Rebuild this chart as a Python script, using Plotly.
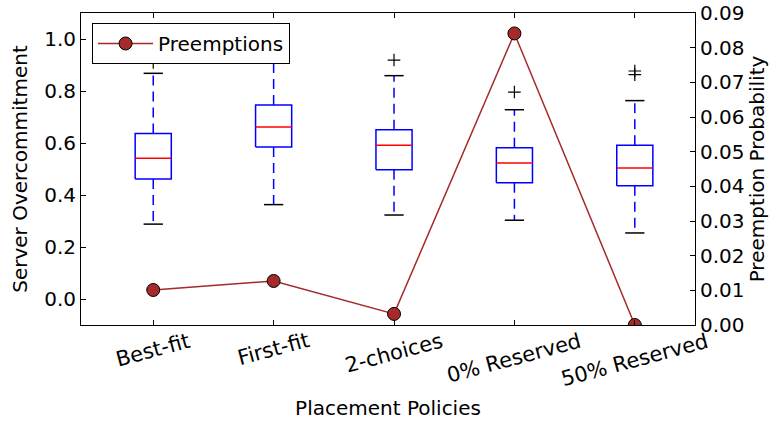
import plotly.graph_objects as go

categories = ["Best-fit", "First-fit", "2-choices", "0% Reserved", "50% Reserved"]
q1 = [0.462, 0.585, 0.497, 0.447, 0.436]
median = [0.541, 0.662, 0.591, 0.523, 0.504]
q3 = [0.637, 0.746, 0.651, 0.582, 0.591]
whisker_low = [0.288, 0.363, 0.323, 0.303, 0.254]
whisker_high = [0.868, 0.980, 0.859, 0.728, 0.763]
outliers = [[0.910], [], [0.919], [0.796], [0.877, 0.863]]
preemptions = [0.0101, 0.0127, 0.0032, 0.0841, 0.0]

FONT = "DejaVu Sans"
BOX_HALF = 0.15
CAP_HALF = 0.08
pos = list(range(1, len(categories) + 1))

box_x, box_y, med_x, med_y = [], [], [], []
wh_x, wh_y, cap_x, cap_y, out_x, out_y = [], [], [], [], [], []
for i, p in enumerate(pos):
    box_x += [p - BOX_HALF, p + BOX_HALF, p + BOX_HALF, p - BOX_HALF, p - BOX_HALF, None]
    box_y += [q1[i], q1[i], q3[i], q3[i], q1[i], None]
    med_x += [p - BOX_HALF, p + BOX_HALF, None]
    med_y += [median[i], median[i], None]
    wh_x += [p, p, None, p, p, None]
    wh_y += [q3[i], whisker_high[i], None, q1[i], whisker_low[i], None]
    cap_x += [p - CAP_HALF, p + CAP_HALF, None, p - CAP_HALF, p + CAP_HALF, None]
    cap_y += [whisker_high[i], whisker_high[i], None, whisker_low[i], whisker_low[i], None]
    for v in outliers[i]:
        out_x.append(p)
        out_y.append(v)

fig = go.Figure()
fig.add_trace(go.Scatter(x=wh_x, y=wh_y, mode="lines", showlegend=False,
                         line=dict(color="blue", width=1.5, dash="10px,6px"), hoverinfo="skip"))
fig.add_trace(go.Scatter(x=cap_x, y=cap_y, mode="lines", showlegend=False,
                         line=dict(color="black", width=1.5), hoverinfo="skip"))
fig.add_trace(go.Scatter(x=box_x, y=box_y, mode="lines", showlegend=False,
                         line=dict(color="blue", width=1.5), hoverinfo="skip"))
fig.add_trace(go.Scatter(x=med_x, y=med_y, mode="lines", showlegend=False,
                         line=dict(color="red", width=1.5), hoverinfo="skip"))
fig.add_trace(go.Scatter(x=out_x, y=out_y, mode="markers", showlegend=False,
                         marker=dict(symbol="cross-thin", size=9, line=dict(color="black", width=1.2))))
fig.add_trace(go.Scatter(x=pos, y=preemptions, mode="lines+markers", name="Preemptions",
                         yaxis="y2",
                         line=dict(color="#a52a2a", width=1.5),
                         marker=dict(size=13, color="#a52a2a", line=dict(color="black", width=1))))

for p, c in zip(pos, categories):
    fig.add_annotation(x=p, y=0, xref="x", yref="paper", text=c, showarrow=False,
                       textangle=-15, xanchor="center", yanchor="top", yshift=-1,
                       font=dict(family=FONT, size=21, color="black"))

fig.update_layout(
    width=777, height=423,
    margin=dict(l=81, r=82, t=13, b=98),
    paper_bgcolor="white", plot_bgcolor="white",
    font=dict(family=FONT, size=20, color="black"),
    xaxis=dict(range=[0.4, 5.5], tickvals=pos, ticktext=[""] * len(pos), showticklabels=False,
               ticks="inside", ticklen=5, tickcolor="black", showline=True, linecolor="black",
               linewidth=1, mirror="ticks", showgrid=False, zeroline=False, automargin=False,
               title=dict(text="Placement Policies", standoff=75, font=dict(family=FONT, size=20))),
    yaxis=dict(range=[-0.1, 1.1], tickvals=[0.0, 0.2, 0.4, 0.6, 0.8, 1.0], tickformat=".1f",
               ticks="inside", ticklen=5, tickcolor="black", showline=True, linecolor="black",
               linewidth=1, showgrid=False, zeroline=False, automargin=False,
               title=dict(text="Server Overcommitment", standoff=11, font=dict(family=FONT, size=20))),
    yaxis2=dict(range=[0, 0.09], dtick=0.01, tickformat=".2f", overlaying="y", side="right",
                ticks="inside", ticklen=5, tickcolor="black", showline=True, linecolor="black",
                linewidth=1, showgrid=False, zeroline=False, automargin=False,
                title=dict(text="Preemption Probability", standoff=6, font=dict(family=FONT, size=20))),
    legend=dict(x=0.018, y=0.968, xanchor="left", yanchor="top", bgcolor="white",
                bordercolor="black", borderwidth=1, font=dict(family=FONT, size=20),
                itemwidth=55),
    showlegend=True,
)

fig.write_html("out.html", post_script="document.body.style.margin='0px';",
               config={"displayModeBar": False})
